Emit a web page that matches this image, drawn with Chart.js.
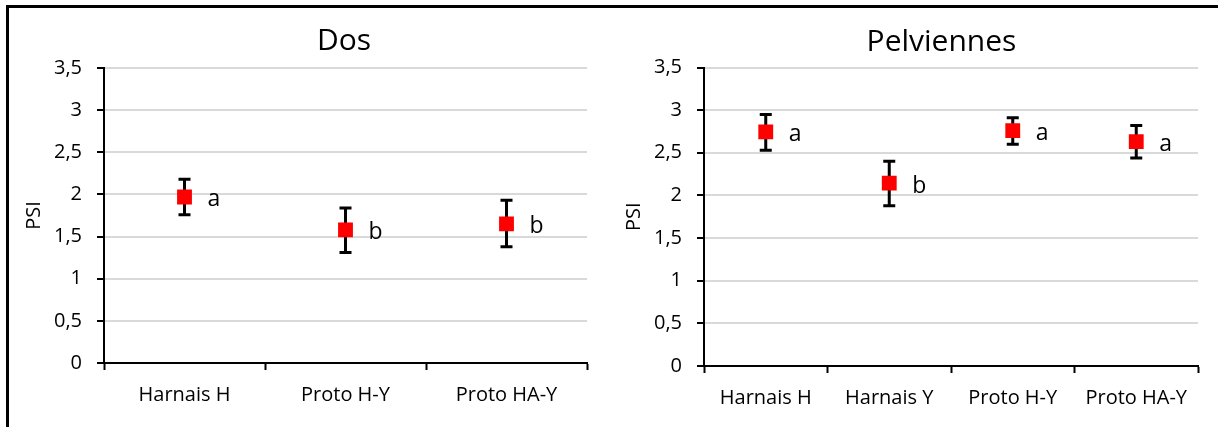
<!DOCTYPE html>
<html><head><meta charset="utf-8">
<script src="https://cdn.jsdelivr.net/npm/chart.js@4.4.1/dist/chart.umd.min.js"></script>
<style>
html,body{margin:0;padding:0;background:#fff;width:1218px;height:427px;overflow:hidden;position:relative;}
#frame{position:absolute;left:6px;top:5px;width:1230px;height:440px;border-top:3px solid #000;border-left:3px solid #000;box-sizing:border-box;}
#c1{position:absolute;left:0;top:0;}
#c2{position:absolute;left:600px;top:0;}
</style></head><body>
<div id="frame"></div>
<canvas id="c1" width="600" height="427"></canvas>
<canvas id="c2" width="618" height="427"></canvas>
<script>
// ---- Data ----
const dosTitle = 'Dos';
const dosCategories = ['Harnais H', 'Proto H-Y', 'Proto HA-Y'];
const dosMeans = [1.97, 1.58, 1.65];
const dosLow = [1.76, 1.31, 1.38];
const dosHigh = [2.18, 1.84, 1.93];
const dosLetters = ['a', 'b', 'b'];

const pelvTitle = 'Pelviennes';
const pelvCategories = ['Harnais H', 'Harnais Y', 'Proto H-Y', 'Proto HA-Y'];
const pelvMeans = [2.745, 2.145, 2.76, 2.63];
const pelvLow = [2.53, 1.88, 2.60, 2.44];
const pelvHigh = [2.95, 2.40, 2.91, 2.82];
const pelvLetters = ['a', 'b', 'a', 'a'];

const yAxisTitle = 'PSI';
const yMin = 0, yMax = 3.5, yStep = 0.5;

const FONT = "'Open Sans', 'DejaVu Sans', sans-serif";

const errLetterPlugin = {
  id: 'errLetters',
  afterLayout(chart, args, opts) {
    if (opts.titleShift && chart.titleBlock) {
      chart.titleBlock.left += opts.titleShift;
      chart.titleBlock.right += opts.titleShift;
    }
  },
  beforeDatasetsDraw(chart, args, opts) {
    const ctx = chart.ctx, x = chart.scales.x, y = chart.scales.y;
    ctx.save();
    ctx.strokeStyle = '#000';
    ctx.lineWidth = 3;
    opts.low.forEach((lo, i) => {
      const px = x.getPixelForValue(i);
      const yl = y.getPixelForValue(lo);
      const yh = y.getPixelForValue(opts.high[i]);
      ctx.beginPath();
      ctx.moveTo(px, yl); ctx.lineTo(px, yh);
      ctx.moveTo(px - 6, yl); ctx.lineTo(px + 6, yl);
      ctx.moveTo(px - 6, yh); ctx.lineTo(px + 6, yh);
      ctx.stroke();
    });
    ctx.restore();
  },
  afterDatasetsDraw(chart, args, opts) {
    const ctx = chart.ctx, x = chart.scales.x, y = chart.scales.y;
    ctx.save();
    ctx.fillStyle = '#000';
    ctx.font = '23px ' + FONT;
    ctx.textAlign = 'left';
    ctx.textBaseline = 'alphabetic';
    opts.letters.forEach((t, i) => {
      const px = x.getPixelForValue(i);
      const py = y.getPixelForValue(opts.means[i]);
      ctx.fillText(t, px + 23, py + 9.5);
    });
    ctx.restore();
  }
};

function makeChart(id, title, cats, means, low, high, letters, cfg) {
  return new Chart(document.getElementById(id), {
    type: 'line',
    data: {
      labels: cats,
      datasets: [{
        data: means,
        showLine: false,
        pointStyle: 'rect',
        pointRadius: 10.5,
        pointHoverRadius: 10.5,
        pointBackgroundColor: '#ff0000',
        pointBorderWidth: 0,
        borderColor: '#ff0000'
      }]
    },
    options: {
      responsive: false,
      animation: false,
      events: [],
      layout: { padding: { left: 0, right: cfg.padRight, top: 0, bottom: 0 } },
      plugins: {
        legend: { display: false },
        tooltip: { enabled: false },
        title: {
          display: true,
          text: title,
          fullSize: false,
          color: '#000',
          font: { family: FONT, size: 30, weight: 'normal', lineHeight: 1.2 },
          padding: { top: cfg.titleTop, bottom: cfg.titleBottom }
        },
        errLetters: { low: low, high: high, letters: letters, means: means, titleShift: cfg.titleShift }
      },
      scales: {
        x: {
          type: 'category',
          offset: true,
          afterFit: (s) => { s.height = cfg.xHeight; },
          grid: {
            offset: true,
            drawOnChartArea: false,
            drawTicks: true,
            tickLength: 7,
            tickColor: '#000',
            tickWidth: 2
          },
          border: { color: '#000', width: 2 },
          ticks: {
            color: '#000',
            padding: 13,
            maxRotation: 0,
            autoSkip: false,
            font: { family: FONT, size: 20 }
          }
        },
        y: {
          min: yMin,
          max: yMax,
          afterFit: (s) => { s.width = 104; },
          grid: {
            color: '#d9d9d9',
            lineWidth: 2,
            drawTicks: true,
            tickLength: 7,
            tickColor: '#000',
            tickWidth: 2
          },
          border: { color: '#000', width: 2 },
          ticks: {
            stepSize: yStep,
            color: '#000',
            padding: 15,
            font: { family: FONT, size: 20 },
            callback: (v) => String(v).replace('.', ',')
          },
          title: {
            display: true,
            text: yAxisTitle,
            color: '#000',
            font: { family: FONT, size: 20 },
            padding: { top: 22, bottom: 0 }
          }
        }
      }
    },
    plugins: [errLetterPlugin]
  });
}

makeChart('c1', dosTitle, dosCategories, dosMeans, dosLow, dosHigh, dosLetters,
  { padRight: 13, xHeight: 64, titleTop: 23, titleBottom: 9, titleShift: -1.5 });
makeChart('c2', pelvTitle, pelvCategories, pelvMeans, pelvLow, pelvHigh, pelvLetters,
  { padRight: 20, xHeight: 61, titleTop: 24, titleBottom: 7.5, titleShift: -9.5 });
</script>
</body></html>
